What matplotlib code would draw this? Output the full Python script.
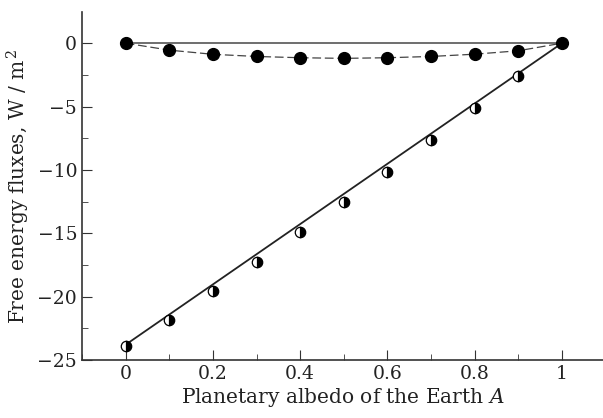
import matplotlib.pyplot as plt
import numpy as np
from matplotlib.ticker import MultipleLocator, FuncFormatter

plt.rcParams["font.family"] = "DejaVu Serif"
plt.rcParams["mathtext.fontset"] = "dejavuserif"

albedo = [0, 0.1, 0.2, 0.3, 0.4, 0.5, 0.6, 0.7, 0.8, 0.9, 1.0]
flux_upper = [0, -0.55, -0.88, -1.05, -1.15, -1.2, -1.15, -1.05, -0.87, -0.6, 0]
flux_lower = [-23.9, -21.85, -19.6, -17.3, -14.9, -12.5, -10.15, -7.65, -5.15, -2.6]
line_x = [0, 1]
line_diag = [-23.8, 0]
line_zero = [0, 0]

fig = plt.figure(figsize=(6.03, 4.18), dpi=100)
ax = fig.add_axes([0.136, 0.139, 0.864, 0.832])

# reference lines
ax.plot(line_x, line_zero, color="#555555", lw=1.2)
ax.plot(line_x, line_diag, color="#222222", lw=1.3)
# filled circles with dashed line
ax.plot(albedo, flux_upper, color="#444444", lw=0.9, ls=(0, (7, 3)),
        marker="o", ms=8.5, mfc="black", mec="black")
# half-filled circles
ax.plot(albedo[:-1], flux_lower, ls="none", marker="o", ms=7.5,
        fillstyle="right", mfc="black", mfcalt="white", mec="black", mew=0.9)

ax.set_xlim(-0.1, 1.094)
ax.set_ylim(-25, 2.45)
ax.xaxis.set_major_locator(MultipleLocator(0.2))
ax.xaxis.set_minor_locator(MultipleLocator(0.1))
ax.yaxis.set_major_locator(MultipleLocator(5))
ax.yaxis.set_minor_locator(MultipleLocator(2.5))
ax.xaxis.set_major_formatter(FuncFormatter(lambda v, p: "%g" % round(v, 2)))
ax.yaxis.set_major_formatter(FuncFormatter(lambda v, p: ("%g" % v).replace("-", "\u2212")))
ax.tick_params(which="both", direction="in", top=False, right=False, labelsize=13.5,
               color="#333333", labelcolor="#222222")
ax.tick_params(which="major", length=7)
ax.tick_params(which="minor", length=4)
for s in ["top", "right"]:
    ax.spines[s].set_visible(False)
for s in ["left", "bottom"]:
    ax.spines[s].set_linewidth(1.2)
    ax.spines[s].set_color("#333333")

ax.set_xlabel("Planetary albedo of the Earth $\\mathit{A}$", fontsize=14.5, labelpad=2,
              color="#222222")
ax.set_ylabel("Free energy fluxes, W / m$^{\\,2}$", fontsize=14.5, labelpad=4,
              color="#222222")

fig.savefig("out.png", dpi=100)
